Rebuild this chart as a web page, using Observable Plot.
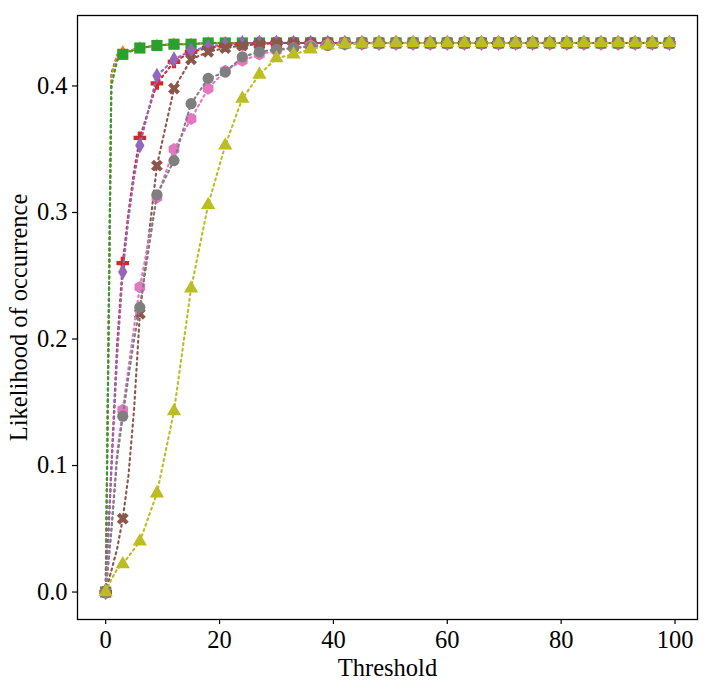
<!DOCTYPE html>
<html><head><meta charset="utf-8">
<script src="https://cdn.jsdelivr.net/npm/d3@7"></script>
<script src="https://cdn.jsdelivr.net/npm/@observablehq/plot@0.6"></script>
<style>
body{margin:0;background:#fff}
#chart svg text{font-family:"Liberation Serif","Times New Roman",serif !important;font-size:24.5px !important;fill:#000}
</style>
</head><body><div id="chart"></div>
<script>
// Marker thresholds (every 3)
const thresholds = [0,3,6,9,12,15,18,21,24,27,30,33,36,39,42,45,48,51,54,57,60,63,66,69,72,75,78,81,84,87,90,93,96,99];
// Extra line samples between early markers
const extraX = [1,2,4,5];

const seriesNames = ["s1","s2","s3","s4","s5","s6","s7","s8","s9"];
const colors = ["#1f77b4","#ff7f0e","#2ca02c","#d62728","#9467bd","#8c564b","#e377c2","#7f7f7f","#bcbd22"];

const blue   = [0,0.426,0.430,0.432,0.433,0.433,0.434,0.434,0.434,0.434,0.434,0.434,0.434,0.434,0.434,0.434,0.434,0.434,0.434,0.434,0.434,0.434,0.434,0.434,0.434,0.434,0.434,0.434,0.434,0.434,0.434,0.434,0.434,0.434];
const orange = [0,0.427,0.430,0.432,0.433,0.433,0.434,0.434,0.434,0.434,0.434,0.434,0.434,0.434,0.434,0.434,0.434,0.434,0.434,0.434,0.434,0.434,0.434,0.434,0.434,0.434,0.434,0.434,0.434,0.434,0.434,0.434,0.434,0.434];
const green  = [0,0.425,0.430,0.432,0.433,0.433,0.434,0.434,0.434,0.434,0.434,0.434,0.434,0.434,0.434,0.434,0.434,0.434,0.434,0.434,0.434,0.434,0.434,0.434,0.434,0.434,0.434,0.434,0.434,0.434,0.434,0.434,0.434,0.434];
const red    = [0,0.260,0.359,0.402,0.419,0.427,0.430,0.432,0.433,0.434,0.434,0.434,0.434,0.434,0.434,0.434,0.434,0.434,0.434,0.434,0.434,0.434,0.434,0.434,0.434,0.434,0.434,0.434,0.434,0.434,0.434,0.434,0.434,0.434];
const purple = [0,0.253,0.353,0.408,0.421,0.428,0.431,0.433,0.434,0.434,0.434,0.434,0.434,0.434,0.434,0.434,0.434,0.434,0.434,0.434,0.434,0.434,0.434,0.434,0.434,0.434,0.434,0.434,0.434,0.434,0.434,0.434,0.434,0.434];
const brown  = [0,0.058,0.220,0.337,0.398,0.421,0.427,0.430,0.432,0.433,0.434,0.434,0.434,0.434,0.434,0.434,0.434,0.434,0.434,0.434,0.434,0.434,0.434,0.434,0.434,0.434,0.434,0.434,0.434,0.434,0.434,0.434,0.434,0.434];
const pink   = [0,0.144,0.241,0.312,0.350,0.374,0.398,0.412,0.420,0.425,0.428,0.430,0.432,0.433,0.434,0.434,0.434,0.434,0.434,0.434,0.434,0.434,0.434,0.434,0.434,0.434,0.434,0.434,0.434,0.434,0.434,0.434,0.434,0.434];
const gray   = [0,0.139,0.225,0.314,0.341,0.386,0.406,0.411,0.423,0.427,0.429,0.430,0.431,0.432,0.433,0.434,0.434,0.434,0.434,0.434,0.434,0.434,0.434,0.434,0.434,0.434,0.434,0.434,0.434,0.434,0.434,0.434,0.434,0.434];
const olive  = [0,0.022,0.040,0.078,0.143,0.240,0.306,0.353,0.390,0.409,0.422,0.425,0.429,0.432,0.433,0.4335,0.434,0.434,0.434,0.434,0.434,0.434,0.434,0.434,0.434,0.434,0.434,0.434,0.434,0.434,0.434,0.434,0.434,0.434];

// values at extraX = [1,2,4,5]
const blueExtra   = [0.410,0.424,null,null];
const orangeExtra = [0.407,0.425,null,null];
const greenExtra  = [0.400,0.420,null,null];
const redExtra    = [0.100,0.195,0.300,0.333];
const purpleExtra = [0.095,0.185,0.295,0.328];
const brownExtra  = [0.017,0.034,0.092,0.145];
const pinkExtra   = [0.050,0.110,0.177,0.210];
const grayExtra   = [0.048,0.105,0.170,0.200];
const oliveExtra  = [0.010,0.018,null,null];

const yTicks = [0,0.1,0.2,0.3,0.4];
const xTicks = [0,20,40,60,80,100];

const hexagon = {draw(ctx, size) {
  const R = Math.sqrt(size / (3 * Math.sqrt(3) / 2));
  for (let i = 0; i < 6; i++) {
    const a = Math.PI / 3 * i - Math.PI / 2;
    const px = R * Math.cos(a), py = R * Math.sin(a);
    if (i) ctx.lineTo(px, py); else ctx.moveTo(px, py);
  }
  ctx.closePath();
}};

const allValues = [blue,orange,green,red,purple,brown,pink,gray,olive];
const allExtras = [blueExtra,orangeExtra,greenExtra,redExtra,purpleExtra,brownExtra,pinkExtra,grayExtra,oliveExtra];
const symbols = ["circle","triangle","square","cross",d3.symbolDiamond,"cross",hexagon,"circle","triangle"];
const radii   = [4.6,4.4,6.3,5.3,4.9,5.3,5.6,5.6,5.3];
const rotates = [0,0,0,0,0,45,0,0,0];

const marks = [];
allValues.forEach((vals, i) => {
  const pts = thresholds.map((t, j) => ({x: t, y: vals[j]}));
  const extra = extraX.map((t, j) => ({x: t, y: allExtras[i][j]})).filter(d => d.y != null);
  const linePts = pts.concat(extra).sort((a, b) => a.x - b.x);
  marks.push(Plot.line(linePts, {x: "x", y: "y", stroke: colors[i], strokeWidth: 2.1, strokeDasharray: "2,3.6"}));
  marks.push(Plot.dot(pts, {x: "x", y: "y", fill: colors[i], stroke: "none", symbol: symbols[i], r: radii[i], rotate: rotates[i]}));
});

const chart = Plot.plot({
  width: 712, height: 689,
  marginLeft: 77, marginRight: 15, marginTop: 15, marginBottom: 70,
  style: {fontFamily: "Liberation Serif", fontSize: "24.5px", color: "black", background: "white"},
  x: {domain: [-4.95, 103.95]},
  y: {domain: [-0.0217, 0.4557]},
  marks: [
    ...marks,
    Plot.frame({stroke: "black", strokeWidth: 1.3}),
    Plot.axisX({ticks: xTicks, tickSize: 5, tickPadding: 6, strokeWidth: 1.2, label: "Threshold", labelAnchor: "center", labelArrow: "none", labelOffset: 56}),
    Plot.axisY({ticks: yTicks, tickSize: 5, tickPadding: 5, strokeWidth: 1.2, tickFormat: d3.format(".1f"), label: "Likelihood of occurrence", labelAnchor: "center", labelArrow: "none", labelOffset: 68})
  ]
});
document.getElementById("chart").appendChild(chart);
</script>
</body></html>
